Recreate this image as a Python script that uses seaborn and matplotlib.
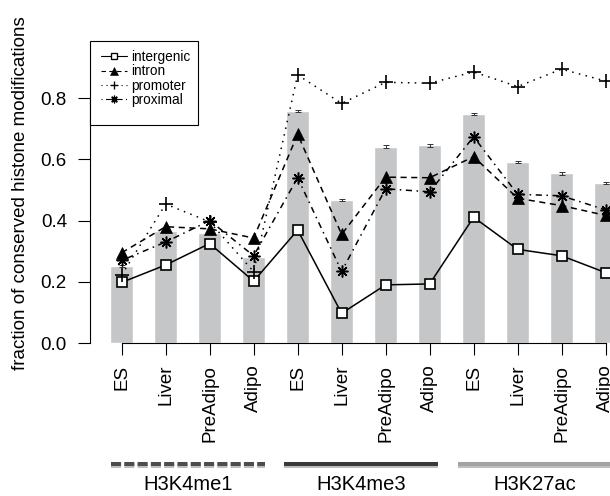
import numpy as np
import matplotlib
matplotlib.use("Agg")
import matplotlib.pyplot as plt
import matplotlib.patheffects as pe
from matplotlib.lines import Line2D
from matplotlib.patches import Rectangle
from matplotlib.transforms import blended_transform_factory
import seaborn as sns
import pandas as pd

# data
marks = ["H3K4me1", "H3K4me3", "H3K27ac"]
cells = ["ES", "Liver", "PreAdipo", "Adipo",
         "ES", "Liver", "PreAdipo", "Adipo",
         "ES", "Liver", "PreAdipo", "Adipo"]
bar_frac = [0.252, 0.366, 0.359, 0.281, 0.758, 0.467, 0.642, 0.646, 0.748, 0.591, 0.554, 0.522]
bar_err = [0.004, 0.004, 0.004, 0.004, 0.004, 0.004, 0.004, 0.004, 0.004, 0.004, 0.004, 0.004]
intergenic = [0.198, 0.255, 0.325, 0.202, 0.369, 0.097, 0.190, 0.193, 0.411, 0.306, 0.285, 0.230]
intron = [0.295, 0.380, 0.373, 0.343, 0.682, 0.355, 0.542, 0.540, 0.609, 0.473, 0.449, 0.417]
promoter = [0.222, 0.454, 0.396, 0.233, 0.876, 0.783, 0.852, 0.849, 0.886, 0.838, 0.895, 0.856]
proximal = [0.270, 0.330, 0.400, 0.285, 0.540, 0.234, 0.504, 0.494, 0.674, 0.486, 0.481, 0.435]

sns.set_style("ticks", {"axes.edgecolor": "black", "text.color": "black",
                        "xtick.color": "black", "ytick.color": "black"})
plt.rcParams["font.family"] = ["Liberation Sans", "DejaVu Sans"]

samples = [m + " " + c for m in marks for c in ["ES", "Liver", "PreAdipo", "Adipo"]]
df = pd.DataFrame({"sample": samples, "frac": bar_frac})
pos = np.arange(len(cells))

W, H = 610, 496
fig = plt.figure(figsize=(6.1, 4.96), dpi=100)
ax = fig.add_axes([90 / W, 153 / H, 1 - 90 / W, 306 / H])

sns.barplot(data=df, x="sample", y="frac", color="#c5c6c8", saturation=1,
            width=0.52, errorbar=None, ax=ax)
ax.errorbar(pos, bar_frac, yerr=bar_err, fmt="none", ecolor="#333333",
            elinewidth=0.7, capsize=2.2, capthick=0.7, zorder=3)

lw = 1.1
series = [
    ("intergenic", intergenic, dict(marker="s", markersize=7, mfc="white", mec="black", mew=1.2,
                                    linestyle="-")),
    ("intron", intron, dict(marker="^", markersize=8, mfc="black", mec="black", mew=0.5,
                            linestyle=(0, (4, 3)))),
    ("promoter", promoter, dict(marker="+", markersize=9.5, mfc="black", mec="black", mew=1.2,
                                linestyle=(0, (1, 3.5)))),
    ("proximal", proximal, dict(marker=(8, 2, 0), markersize=8.5, mfc="black", mec="black", mew=1.1,
                                linestyle=(0, (1, 3, 4, 3)))),
]
handles = []
for name, vals, kw in series:
    sns.lineplot(x=pos, y=vals, ax=ax, color="black", lw=lw, zorder=4, **kw)
    lkw = dict(kw)
    lkw["markersize"] = kw["markersize"] * 0.65
    lkw["mew"] = kw["mew"] * 0.8
    handles.append(Line2D([], [], color="black", lw=0.8, label=name, **lkw))

ax.set_xlim(-0.72, 11.1)
ax.set_ylim(0, 1.0)
ax.set_xticks(pos)
ax.set_xticklabels(cells, rotation=90, fontsize=13.5)
ax.set_yticks([0, 0.2, 0.4, 0.6, 0.8])
ax.set_yticklabels(["0.0", "0.2", "0.4", "0.6", "0.8"], fontsize=13.5)
ax.tick_params(axis="x", length=8.6, width=0.8, pad=7)
ax.tick_params(axis="y", length=8.6, width=0.8, pad=8)
ax.set_xlabel("")
ax.set_ylabel("")
for s in ["top", "right"]:
    ax.spines[s].set_visible(False)
ax.spines["left"].set_bounds(0, 0.8)
ax.spines["bottom"].set_bounds(0, 11)
ax.spines["left"].set_linewidth(0.8)
ax.spines["bottom"].set_linewidth(0.8)

# legend: box drawn by hand (R style, roomy at the bottom), entries without frame
box = Rectangle((90 / W, 1 - 125 / H), 108 / W, 84 / H, transform=fig.transFigure,
                facecolor="white", edgecolor="black", lw=0.8, zorder=6)
fig.patches.append(box)
leg = fig.legend(handles=handles, loc="upper left", bbox_to_anchor=(101 / W, 1 - 50 / H),
                 borderaxespad=0, borderpad=0, fontsize=9.8, frameon=False,
                 handlelength=1.9, handletextpad=0.3, labelspacing=0.02)
leg.set_zorder(7)

fig.text(21 / W, 1 - 193 / H, "fraction of conserved histone modifications",
         rotation=90, ha="center", va="center", fontsize=13.5)

# group annotations below the tick labels
tr = blended_transform_factory(ax.transData, fig.transFigure)
group_style = [("#4d4d4d", (0, (2.5, 0.8))), ("#3a3a3a", "-"), ("#a3a3a3", "-")]
for g, m in enumerate(marks):
    c = 1.5 + g * 3.95
    col, ls = group_style[g]
    ax.plot([c - 1.75, c + 1.75], [1 - 464 / H, 1 - 464 / H], transform=tr, color=col,
            lw=2.9, linestyle=ls, clip_on=False, solid_capstyle="butt",
            path_effects=[pe.SimpleLineShadow(offset=(0, -1.5), alpha=0.25), pe.Normal()])
    fig.text(c, 1 - 484 / H, m, transform=tr, ha="center", va="center", fontsize=14.5)

fig.savefig("out.png", dpi=100)
